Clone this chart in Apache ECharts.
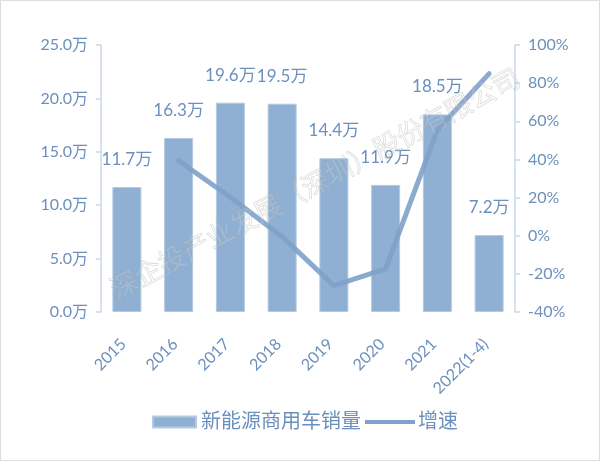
<!DOCTYPE html>
<html><head><meta charset="utf-8">
<script src="https://cdn.jsdelivr.net/npm/echarts@6/dist/echarts.min.js"></script>
<style>html,body{margin:0;padding:0;background:#fff}#c{width:600px;height:461px}</style>
</head><body><div id="c"></div>
<script>
var categories = ['2015','2016','2017','2018','2019','2020','2021','2022(1-4)'];
var sales = [11.7, 16.3, 19.6, 19.5, 14.4, 11.9, 18.5, 7.2];
var growth = [null, 39.3, 20.2, -0.5, -26.2, -17.4, 55.5, 85];
var leftTicks = {min: 0, max: 25, interval: 5};
var rightTicks = {min: -40, max: 100, interval: 20};

var txt = '#6b90bd';
var ff = 'Lato, "Noto Sans CJK SC", sans-serif';
var chart = echarts.init(document.getElementById('c'));
chart.setOption({
  animation: false,
  backgroundColor: '#fff',
  grid: {left: 101, right: 85, top: 45, bottom: 149},
  legend: [{
    top: 407, left: 147, itemWidth: 43, itemHeight: 11, itemGap: 4,
    textStyle: {color: txt, fontSize: 20, fontFamily: ff},
    data: [{name: '新能源商用车销量', icon: 'rect'}]
  }, {
    top: 407, left: 360, itemWidth: 50, itemHeight: 4, itemGap: 4,
    textStyle: {color: txt, fontSize: 20, fontFamily: ff, padding: [0,0,0,-2]},
    data: [{name: '增速', icon: 'rect', itemStyle: {color: '#7ea2c9'}}]
  }],
  xAxis: {
    type: 'category', data: categories,
    axisLine: {show: false}, axisTick: {show: false},
    axisLabel: {rotate: 45, color: txt, fontSize: 16, fontFamily: ff, margin: 26, interval: 0,
      padding: [0, 5, 0, 0]}
  },
  yAxis: [{
    type: 'value', min: leftTicks.min, max: leftTicks.max, interval: leftTicks.interval,
    splitLine: {show: false},
    axisLine: {show: true, lineStyle: {color: '#cbd9e8', width: 1.5}},
    axisTick: {show: true, length: 5, lineStyle: {color: '#cbd9e8', width: 1.5}},
    axisLabel: {color: txt, fontSize: 16, fontFamily: ff, margin: 13,
      formatter: function(v){return v.toFixed(1) + '万';}}
  }, {
    type: 'value', min: rightTicks.min, max: rightTicks.max, interval: rightTicks.interval,
    splitLine: {show: false},
    axisLine: {show: true, lineStyle: {color: '#cbd9e8', width: 1.5}},
    axisTick: {show: true, length: 5, lineStyle: {color: '#cbd9e8', width: 1.5}},
    axisLabel: {color: txt, fontSize: 16, fontFamily: ff, margin: 13,
      formatter: function(v){return v + '%';}}
  }],
  series: [{
    name: '新能源商用车销量', type: 'bar', data: sales, barWidth: 29, z: 2,
    itemStyle: {color: '#8fb0d3', borderColor: '#b3cae2', borderWidth: 1},
    label: {show: true, position: 'top', distance: 19, color: txt, fontSize: 17, fontFamily: ff,
      formatter: function(p){return p.value + '万';}}
  }, {
    name: '增速', type: 'line', yAxisIndex: 1, data: growth, z: 3,
    symbol: 'none', connectNulls: false,
    lineStyle: {color: '#7ea2c9', width: 5, cap: 'round', opacity: 0.9},
    itemStyle: {color: '#7ea2c9'}
  }],
  graphic: [{
    type: 'text', z: 100, silent: true,
    x: 315, y: 183, rotation: 28 * Math.PI / 180,
    style: {text: '深企投产业发展（深圳）股份有限公司', font: '27px "Noto Sans CJK SC"',
      fill: 'rgba(255,255,255,0.15)', stroke: 'rgba(160,160,160,0.38)', lineWidth: 0.8,
      align: 'center', verticalAlign: 'middle', textAlign: 'center', textVerticalAlign: 'middle'}
  }, {
    type: 'rect', z: 100, silent: true,
    shape: {x: 0.5, y: 0.5, width: 599, height: 460},
    style: {fill: 'none', stroke: '#dddddd', lineWidth: 1}
  }]
});
</script></body></html>
